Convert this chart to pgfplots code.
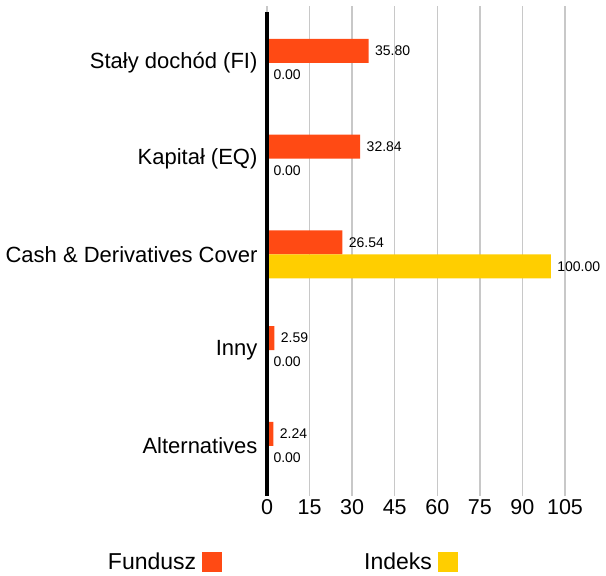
\documentclass[border=0pt]{standalone}
\usepackage{pgfplots}
\pgfplotsset{compat=1.18}
\usepackage{fontspec}
\setmainfont{Liberation Sans}
\definecolor{fund}{HTML}{FF4A14}
\definecolor{idx}{HTML}{FFCE00}
\definecolor{gridgray}{HTML}{C8C8C8}
\begin{document}
\begin{tikzpicture}
\begin{axis}[
 name=ax,
 scale only axis, width=298pt, height=478pt,
 xbar, bar width=24pt,
 xmin=0, xmax=105, xtick={0,15,...,105},
 ymin=-0.53, ymax=4.46, y dir=reverse,
 ytick={0,1,2,3,4},
 yticklabels={Stały dochód (FI), Kapitał (EQ), Cash \& Derivatives Cover, Inny, Alternatives},
 axis line style={draw=none},
 xmajorgrids, grid style={gridgray, line width=1.5pt},
 xtick align=outside, major tick length=6pt,
 xtick style={gridgray, line width=1.5pt},
 ytick style={draw=none},
 yticklabel style={font=\fontsize{22}{26}\selectfont},
 xticklabel style={font=\fontsize{21.5}{26}\selectfont},
 /pgf/number format/assume math mode=true,
 nodes near coords={\pgfmathprintnumber[fixed,fixed zerofill,precision=2]{\pgfplotspointmeta}},
 every node near coord/.append style={font=\fontsize{14}{16}\selectfont, black, xshift=3pt},
 legend columns=2,
 legend plot pos=right,
 legend image code/.code={\fill[#1] (0pt,-10pt) rectangle (20pt,10pt);},
 legend style={draw=none, fill=none, at={(-0.541,-0.151)}, anchor=west, inner sep=0pt,
   font=\fontsize{23}{27}\selectfont,
   /tikz/every odd column/.append style={column sep=4pt},
   /tikz/every even column/.append style={column sep=140pt}},
]
\addplot[fill=fund, draw=none, bar shift=12pt] coordinates {(35.80,0) (32.84,1) (26.54,2) (2.59,3) (2.24,4)};
\addlegendentry{Fundusz}
\addplot[fill=idx, draw=none, bar shift=-12pt] coordinates {(0,0) (0,1) (100,2) (0,3) (0,4)};
\addlegendentry{Indeks}
\end{axis}
\draw[black, line width=3.5pt] (ax.north west) -- ([yshift=-6pt]ax.south west);
\path ([shift={(-267pt,-86pt)}]ax.south west) rectangle ([shift={(339pt,490pt)}]ax.south west);
\end{tikzpicture}
\end{document}
